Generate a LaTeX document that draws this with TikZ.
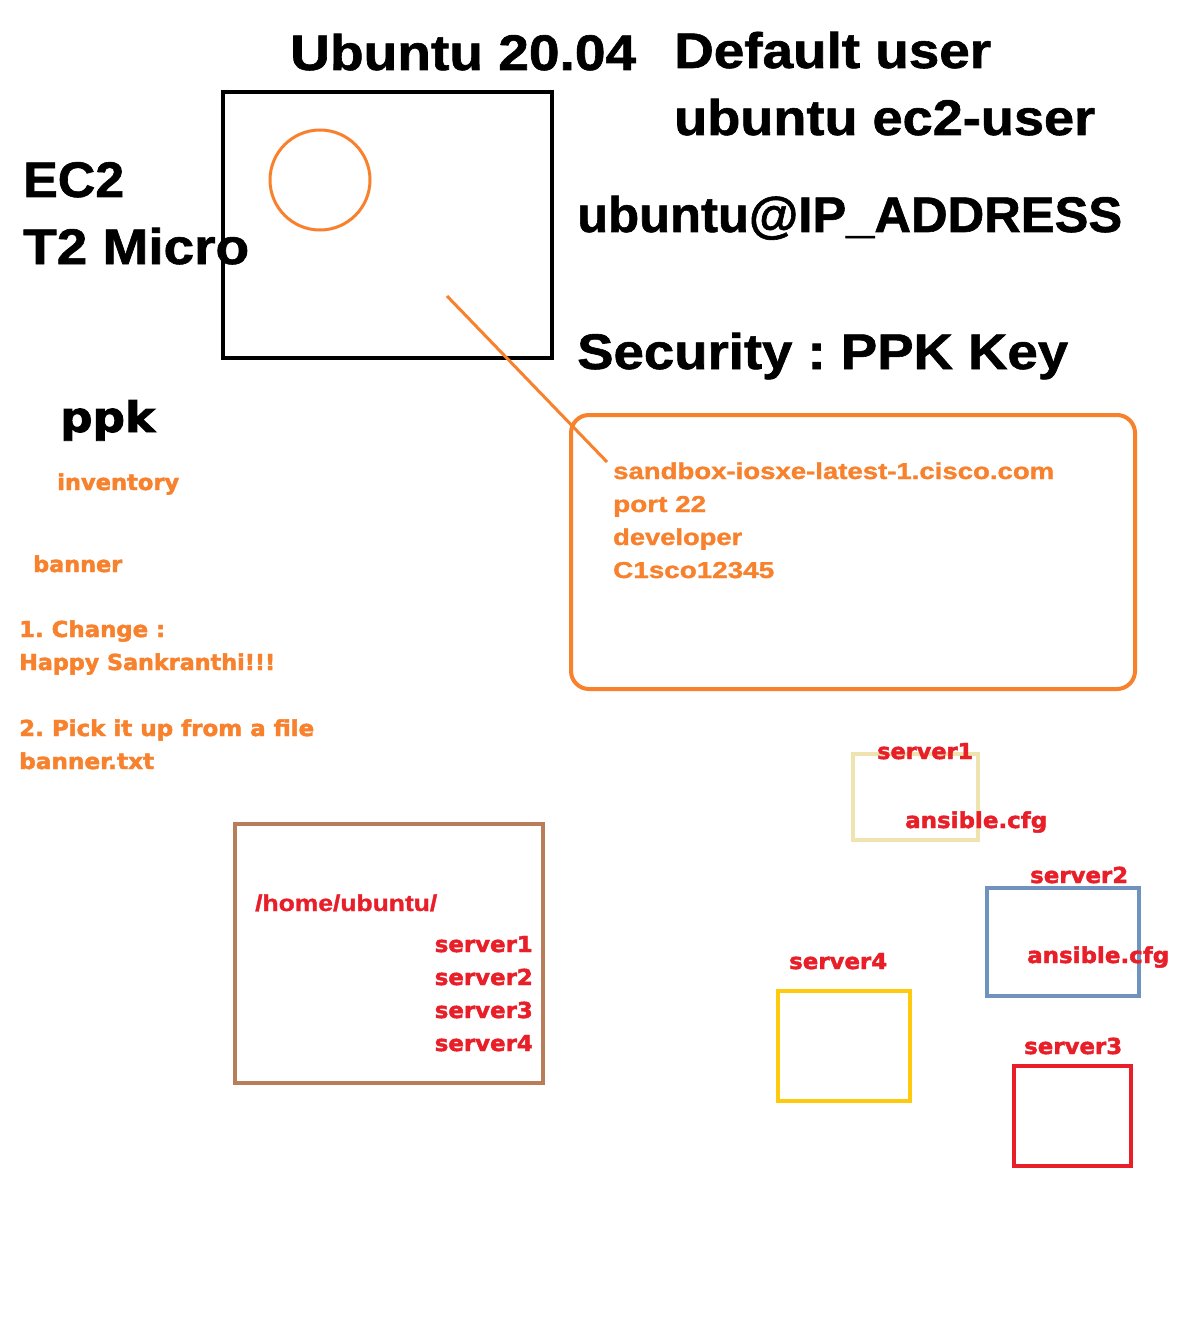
\documentclass[tikz,border=0pt]{standalone}
\usepackage{fontspec}
\usepackage{graphicx}
\setmainfont{Liberation Sans}[BoldFeatures={FakeBold=1.2}]
\newfontfamily\heavyfont{DejaVu Sans}[BoldFeatures={FakeBold=2}]
\newfontfamily\lightbold{Liberation Sans}[BoldFeatures={FakeBold=1.2}]
\frenchspacing
\definecolor{porange}{RGB}{247,129,44}
\definecolor{pred}{RGB}{232,30,40}
\definecolor{pbrown}{RGB}{185,125,90}
\definecolor{pbeige}{RGB}{239,228,176}
\definecolor{pblue}{RGB}{112,146,190}
\definecolor{pyellow}{RGB}{255,201,14}
\newcommand\fitto[2]{\setbox0\hbox{#2}\pgfmathsetmacro\fitratio{#1/\the\wd0}\scalebox{\fitratio}[1]{\box0}}
\tikzset{
  big/.style={font=\fontsize{50}{60}\selectfont\bfseries, anchor=base west, inner sep=0pt, text=black},
  small/.style={font=\lightbold\fontsize{23}{26}\selectfont\bfseries, anchor=base west, inner sep=0pt},
  heavy/.style={font=\heavyfont\fontsize{22}{26}\selectfont\bfseries, anchor=base west, inner sep=0pt},
  frame/.style={draw, line width=4pt, inner sep=0pt},
}
\begin{document}
\begin{tikzpicture}[x=1pt,y=-1pt]
\useasboundingbox[fill=white] (0,0) rectangle (1199,1332);
% shapes
\node[frame, black, minimum width=329pt, minimum height=266pt] (ec2) at (387.5,225) {};
\node[draw=porange, line width=3pt, circle, minimum size=100pt, inner sep=0pt] (disk) at (320,180) {};
\node[frame, draw=porange, rounded corners=18pt, minimum width=564pt, minimum height=274pt] (conn) at (853,552) {};
\coordinate (lineA) at (447,296);
\coordinate (lineB) at (607,462);
\draw[porange, line width=3pt] (lineA) -- (lineB);
\node[frame, draw=pbrown, minimum width=308pt, minimum height=259pt] (home) at (389,953.5) {};
\node[frame, draw=pbeige, minimum width=125pt, minimum height=86pt] (s1box) at (915.5,797) {};
\node[frame, draw=pblue, minimum width=152pt, minimum height=108pt] (s2box) at (1063,942) {};
\node[frame, draw=pyellow, minimum width=132pt, minimum height=110pt] (s4box) at (844,1046) {};
\node[frame, draw=pred, minimum width=117pt, minimum height=100pt] (s3box) at (1072.5,1116) {};
% black titles
\node[big] (ubuntu) at (290,70) {\fitto{346}{Ubuntu 20.04}};
\node[big] (defuser) at (674,68) {\fitto{317}{Default user}};
\node[big] (users) at (674,135) {\fitto{421}{ubuntu ec2-user}};
\node[big] (ectwo) at (23,197) {\fitto{101}{EC2}};
\node[big] (micro) at (23,264) {\fitto{226}{T2 Micro}};
\node[big] (login) at (577,232) {\fitto{545}{ubuntu@IP\_ADDRESS}};
\node[big] (security) at (577,369) {\fitto{491}{Security : PPK Key}};
\node[font=\heavyfont\fontsize{42}{50}\selectfont\bfseries, anchor=base west, inner sep=0pt] (ppk) at (60,432) {\fitto{95}{ppk}};
% orange connection details
\node[small, text=porange] (host) at (613,479) {\fitto{441}{sandbox-iosxe-latest-1.cisco.com}};
\node[small, text=porange] (port) at (613,512) {\fitto{93}{port 22}};
\node[small, text=porange] (dev) at (613,545) {\fitto{129}{developer}};
\node[small, text=porange] (pass) at (613,578) {\fitto{161}{C1sco12345}};
% orange left notes
\node[heavy, text=porange] (inv) at (57,490) {\fitto{122}{inventory}};
\node[heavy, text=porange] (banner) at (33,572) {\fitto{89}{banner}};
\node[heavy, text=porange] (chg) at (19,637) {\fitto{146}{1. Change :}};
\node[heavy, text=porange] (happy) at (19,670) {\fitto{256}{Happy Sankranthi!!!}};
\node[heavy, text=porange] (pick) at (19,736) {\fitto{295}{2. Pick it up from a file}};
\node[heavy, text=porange] (btxt) at (19,769) {\fitto{135}{banner.txt}};
% red home listing
\node[small, text=pred] (homepath) at (255,911) {\fitto{182}{/home/ubuntu/}};
\node[heavy, text=pred, anchor=base east] (ls1) at (533,952) {\fitto{98}{server1}};
\node[heavy, text=pred, anchor=base east] (ls2) at (533,985) {\fitto{98}{server2}};
\node[heavy, text=pred, anchor=base east] (ls3) at (533,1018) {\fitto{98}{server3}};
\node[heavy, text=pred, anchor=base east] (ls4) at (533,1051) {\fitto{98}{server4}};
% server labels
\node[heavy, text=pred] (s1lab) at (877,759) {\fitto{96}{server1}};
\node[heavy, text=pred] (s1cfg) at (905,828) {\fitto{142}{ansible.cfg}};
\node[heavy, text=pred] (s2lab) at (1030,883) {\fitto{98}{server2}};
\node[heavy, text=pred] (s2cfg) at (1027,963) {\fitto{142}{ansible.cfg}};
\node[heavy, text=pred] (s4lab) at (789,969) {\fitto{98}{server4}};
\node[heavy, text=pred] (s3lab) at (1024,1054) {\fitto{98}{server3}};
\end{tikzpicture}
\end{document}
